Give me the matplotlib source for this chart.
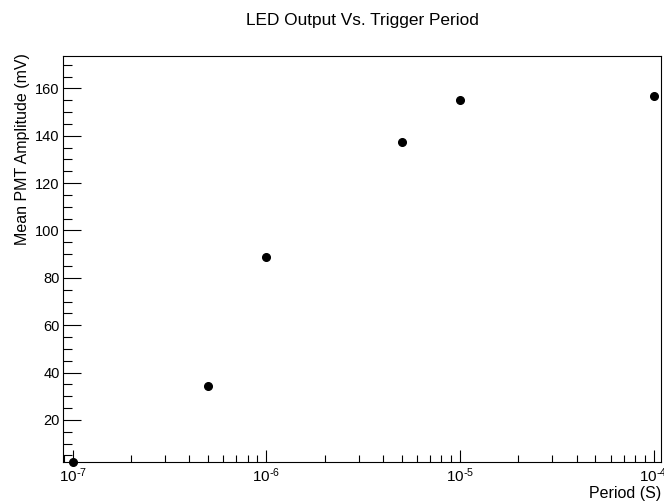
import matplotlib
matplotlib.use("Agg")
import numpy as np
import matplotlib.pyplot as plt
from matplotlib.ticker import LogLocator, NullFormatter, MultipleLocator, FuncFormatter

plt.rcParams['font.family'] = ['Liberation Sans', 'DejaVu Sans']
plt.rcParams['mathtext.default'] = 'regular'

# trigger period (s) and mean PMT amplitude (mV)
periods = [1e-7, 5e-7, 1e-6, 5e-6, 1e-5, 1e-4]
amplitudes = [2.3, 34.2, 89.0, 137.4, 154.9, 156.6]

fig = plt.figure(figsize=(6.64, 5.04), dpi=100)
ax = fig.add_axes([0.0953, 0.0827, 0.9002, 0.8068])

ax.plot(periods, amplitudes, 'o', color='black', markersize=5.5, clip_on=False)

ax.set_xscale('log')
ax.set_xlim(8.94e-8, 1.092e-4)
ax.set_ylim(2.1, 173.8)


def pow10(v, pos):
    # ROOT style label with a plain hyphen in the exponent
    e = int(round(np.log10(v)))
    return r'$10^{\text{-}%d}$' % -e if e < 0 else r'$10^{%d}$' % e


ax.xaxis.set_major_locator(LogLocator(base=10))
ax.xaxis.set_major_formatter(FuncFormatter(pow10))
ax.xaxis.set_minor_locator(LogLocator(base=10, subs=range(2, 10)))
ax.xaxis.set_minor_formatter(NullFormatter())
ax.yaxis.set_major_locator(MultipleLocator(20))
ax.yaxis.set_minor_locator(MultipleLocator(5))

ax.tick_params(axis='both', which='both', direction='in', top=False, right=False,
               width=0.8, colors='black')
ax.tick_params(axis='y', which='major', length=13, pad=2.5, labelsize=10.5)
ax.tick_params(axis='y', which='minor', length=6.5)
ax.tick_params(axis='x', which='major', length=8.5, pad=3, labelsize=11)
ax.tick_params(axis='x', which='minor', length=4.8)

for s in ax.spines.values():
    s.set_linewidth(0.8)
    s.set_color('black')

fig.text(0.5452, 0.96, 'LED Output Vs. Trigger Period', ha='center', va='center',
         fontsize=12.4)
fig.text(0.034, 1 - 53 / 504, 'Mean PMT Amplitude (mV)', rotation=90,
         ha='center', va='top', fontsize=11.5)
fig.text(0.9955, 0.005, 'Period (S)', ha='right', va='bottom', fontsize=11.5)

fig.savefig('out.png', dpi=100)
